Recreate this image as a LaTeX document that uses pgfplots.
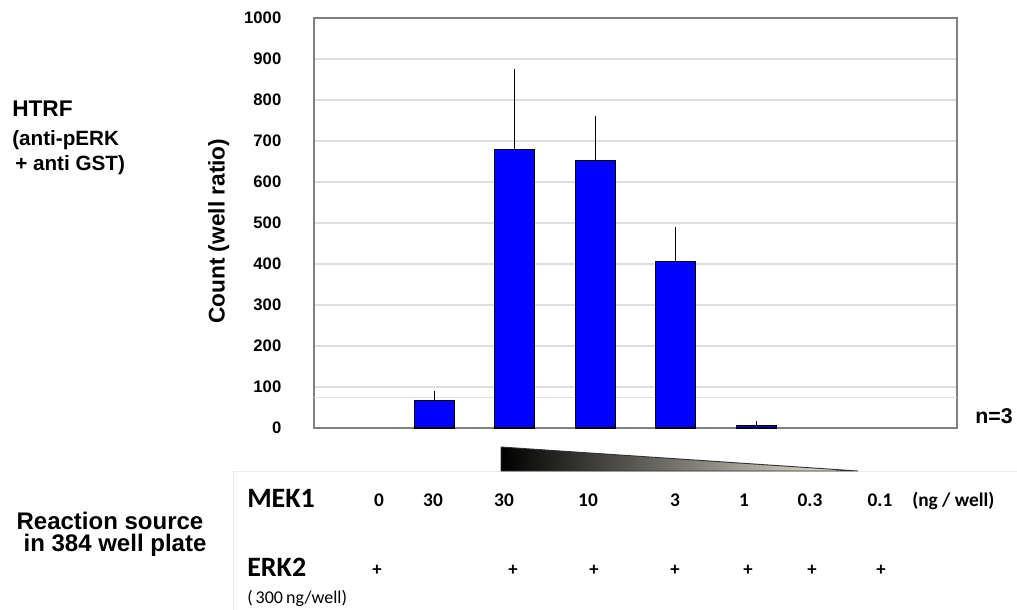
\documentclass[border=0pt]{standalone}
\usepackage{pgfplots}
\pgfplotsset{compat=1.18}
\usepackage{fontspec}
\setmainfont{Liberation Sans}
\newfontfamily\calfont{Carlito}
\definecolor{barblue}{RGB}{0,0,255}
\definecolor{gridgray}{RGB}{222,222,222}
\definecolor{framegray}{RGB}{128,128,128}
\definecolor{paleend}{RGB}{240,236,222}
\begin{document}
\begin{tikzpicture}
\path[use as bounding box] (0,0) rectangle (762.75pt,-457.5pt);
\begin{axis}[
  at={(235.5pt,-321pt)}, anchor=south west,
  scale only axis, width=482.25pt, height=307.5pt,
  ybar, bar width=30pt,
  xmin=-0.5, xmax=7.5, ymin=0, ymax=1000,
  xtick=\empty,
  ytick={0,100,...,1000},
  ymajorgrids, major grid style={gridgray, line width=0.8pt},
  major tick length=0pt,
  axis line style={framegray, line width=0.9pt},
  /pgf/number format/assume math mode=true,
  /pgf/number format/1000 sep={},
  yticklabel style={font=\bfseries\fontsize{12.5}{14}\selectfont, xshift=-21pt},
  extra y ticks={75}, extra y tick labels={},
  extra y tick style={grid=major},
  ylabel={Count (well ratio)},
  ylabel style={font=\bfseries\fontsize{17}{20}\selectfont, at={(axis description cs:-0.148,0.48)}, anchor=center},
]
\addplot[fill=barblue, draw=black, line width=0.8pt,
  error bars/.cd, y dir=plus, y explicit, error mark=none,
  error bar style={black, line width=0.8pt}]
  table[x=x, y=y, y error=e] {
x y e
1 66 24
2 679 197
3 653 108
4 405 85
5 5 12
};
\end{axis}
\begin{scope}[x=0.75pt, y=-0.75pt]
  % faint frame of the lower table
  \draw[black!8, line width=0.6pt] (233,610) -- (233,471) -- (1017,471);
  % gradient triangle
  \shade[left color=black, right color=paleend] (501,447) -- (858,471) -- (501,471) -- cycle;
  \draw[black!80, line width=0.7pt, line join=miter] (501,447) -- (858,471) -- (501,471) -- cycle;
  % left annotations
  \node[anchor=base west, font=\bfseries\fontsize{17}{20}\selectfont, inner sep=0] at (12,117) {HTRF};
  \node[anchor=base west, font=\bfseries\fontsize{15.5}{18}\selectfont, inner sep=0] at (12,145) {(anti-pERK};
  \node[anchor=base west, font=\bfseries\fontsize{15.5}{18}\selectfont, inner sep=0] at (15,170) {+ anti GST)};
  \node[anchor=base west, font=\bfseries\fontsize{16}{18}\selectfont, inner sep=0] at (975,423) {n=3};
  % bottom table
  \node[anchor=base, font=\bfseries\fontsize{18}{20}\selectfont, inner sep=0] at (110,529) {Reaction source};
  \node[anchor=base, font=\bfseries\fontsize{18}{20}\selectfont, inner sep=0] at (115,551) {in 384 well plate};
  \node[anchor=base west, font=\calfont\bfseries\fontsize{21}{24}\selectfont, inner sep=0] at (247,507) {MEK1};
  \node[anchor=base west, font=\calfont\bfseries\fontsize{21}{24}\selectfont, inner sep=0] at (247,576) {ERK2};
  \node[anchor=base west, font=\calfont\fontsize{13.5}{15}\selectfont, inner sep=0] at (247,603) {(\,300\,ng/well)};
  \foreach \xx/\tt in {379/0, 433/30, 504/30, 588/10, 675/3, 744/1, 810/0.3, 880/0.1}
    \node[anchor=base, font=\calfont\bfseries\fontsize{14.5}{16}\selectfont, inner sep=0] at (\xx,506) {\tt};
  \node[anchor=base west, font=\calfont\bfseries\fontsize{14.5}{16}\selectfont, inner sep=0] at (912,506) {(ng / well)};
  \foreach \xx in {377, 513, 594, 675, 748, 812, 881}
    \node[anchor=base, font=\calfont\bfseries\fontsize{14}{16}\selectfont, inner sep=0] at (\xx,575) {+};
\end{scope}
\end{tikzpicture}
\end{document}
